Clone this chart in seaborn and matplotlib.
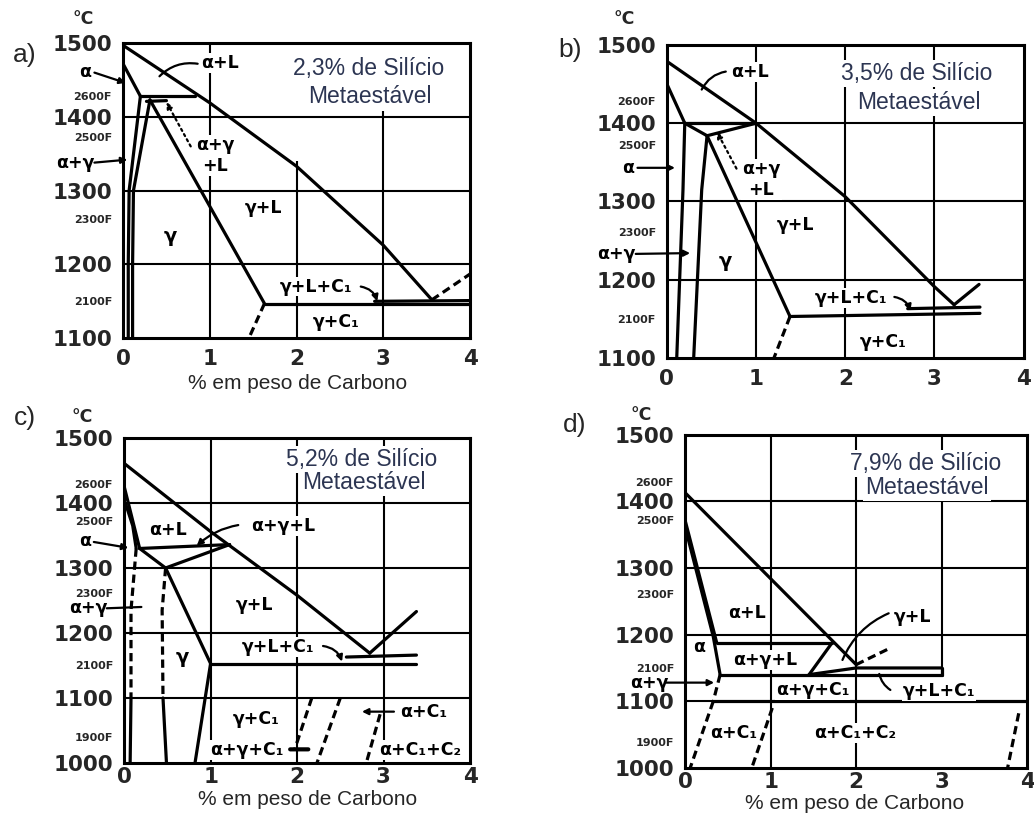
import matplotlib
matplotlib.use("Agg")
import matplotlib.pyplot as plt
import seaborn as sns
import pandas as pd

# ---------------- phase boundaries: (wt% C, temperature °C) ----------------
# a) 2.3 % Si
a_liquidus = [(0.0, 1497), (1.0, 1419), (2.0, 1333), (3.0, 1226), (3.56, 1152)]
a_liquidus_ext = [(3.56, 1152), (4.0, 1187)]
a_alpha_solidus = [(0.0, 1472), (0.20, 1428)]
a_peritectic = [(0.20, 1428), (0.83, 1428)]
a_peritectic_low = [(0.27, 1421), (0.50, 1422)]
a_alpha_solvus = [(0.20, 1428), (0.07, 1300), (0.06, 1200), (0.06, 1100)]
a_gamma_solvus = [(0.31, 1423), (0.12, 1300), (0.11, 1200), (0.11, 1100)]
a_gamma_solidus = [(0.31, 1423), (1.63, 1147)]
a_eutectic_low = [(1.63, 1147), (4.0, 1147)]
a_eutectic_high = [(2.90, 1150), (4.0, 1151)]
a_gamma_cem = [(1.63, 1147), (1.45, 1100)]

# b) 3.5 % Si
b_liquidus = [(0.0, 1479), (1.0, 1400), (2.0, 1306), (3.0, 1191), (3.22, 1168)]
b_liquidus_ext = [(3.22, 1168), (3.50, 1194)]
b_alpha_solidus = [(0.0, 1450), (0.20, 1400)]
b_peritectic = [(0.20, 1400), (1.0, 1400)]
b_tri_left = [(0.20, 1400), (0.45, 1384)]
b_tri_right = [(0.45, 1384), (1.0, 1400)]
b_alpha_solvus = [(0.20, 1400), (0.18, 1315), (0.11, 1100)]
b_gamma_solvus = [(0.45, 1384), (0.39, 1315), (0.30, 1100)]
b_gamma_solidus = [(0.45, 1384), (1.38, 1153)]
b_eutectic_low = [(1.38, 1153), (3.51, 1157)]
b_eutectic_high = [(2.70, 1163), (3.51, 1165)]
b_gamma_cem = [(1.38, 1153), (1.20, 1100)]

# c) 5.2 % Si
c_liquidus = [(0.0, 1461), (1.0, 1356), (2.0, 1258), (2.84, 1169)]
c_liquidus_ext = [(2.84, 1169), (3.38, 1233)]
c_alpha_solidus = [(0.0, 1426), (0.18, 1330)]
c_alpha_solvus = [(0.02, 1398), (0.10, 1365), (0.14, 1330)]
c_alpha_solvus_mid = [(0.14, 1330), (0.08, 1235), (0.08, 1100)]
c_alpha_solvus_low = [(0.08, 1100), (0.07, 1000)]
c_tri_top = [(0.18, 1330), (1.22, 1336)]
c_tri_left = [(0.18, 1330), (0.48, 1300)]
c_tri_right = [(0.48, 1300), (1.22, 1336)]
c_gamma_solvus_mid = [(0.48, 1300), (0.44, 1235), (0.45, 1100)]
c_gamma_solvus_low = [(0.45, 1100), (0.49, 1000)]
c_gamma_solidus = [(0.48, 1300), (1.0, 1153)]
c_eutectic_low = [(1.0, 1153), (3.38, 1153)]
c_eutectic_high = [(2.57, 1163), (3.38, 1166)]
c_gamma_cem = [(1.0, 1153), (0.82, 1000)]
c_cem_a = [(2.17, 1100), (1.97, 1020)]
c_cem_b = [(2.50, 1100), (2.23, 1000)]
c_cem_c = [(2.96, 1075), (2.80, 1000)]

# d) 7.9 % Si
d_liquidus = [(0.0, 1413), (2.0, 1155)]
d_liquidus_ext = [(2.0, 1155), (2.40, 1180)]
d_alpha_solidus = [(0.0, 1372), (0.37, 1188)]
d_alpha_solvus = [(0.0, 1362), (0.33, 1197), (0.41, 1140)]
d_alpha_solvus_low = [(0.41, 1140), (0.33, 1100)]
d_alpha_cem = [(0.33, 1100), (0.06, 1000)]
d_tri_top = [(0.37, 1188), (1.72, 1188)]
d_tri_right = [(1.72, 1188), (1.45, 1140)]
d_three_low = [(0.41, 1140), (3.0, 1140)]
d_gl_low = [(1.45, 1140), (2.0, 1150), (3.0, 1150)]
d_right_edge = [(3.0, 1140), (3.0, 1150)]
d_eutectoid = [(0.33, 1100), (4.0, 1100)]
d_cem_mid = [(1.02, 1090), (0.78, 1000)]
d_cem_right = [(3.90, 1082), (3.77, 1000)]

# ---------------- axis texts ----------------
c_ticks = [0, 1, 2, 3, 4]
t_ticks_ab = [1100, 1200, 1300, 1400, 1500]
t_ticks_cd = [1000, 1100, 1200, 1300, 1400, 1500]
f_ticks_ab = [1427, 1371, 1260, 1149]
f_labels_ab = ["2600F", "2500F", "2300F", "2100F"]
f_ticks_cd = [1427, 1371, 1260, 1149, 1038]
f_labels_cd = ["2600F", "2500F", "2300F", "2100F", "1900F"]
silicon_titles = ["2,3% de Silício", "3,5% de Silício", "5,2% de Silício", "7,9% de Silício"]
subtitle = "Metaestável"
xlabel = "% em peso de Carbono"

# ---------------- style ----------------
sns.set_style("white")
plt.rcParams["font.family"] = ["DejaVu Sans"]

INK = "black"
LW = 2.3
DASH = (0, (2.6, 1.5))
TITLE_COLOR = "#2c3552"

fig = plt.figure(figsize=(10.34, 8.13), dpi=100)
W, H = 1034.0, 813.0


def fx(px):
    return px / W


def fy(py):
    return 1 - py / H


def curve(ax, pts, dashed=False, lw=LW):
    df = pd.DataFrame(pts, columns=["C", "T"])
    sns.lineplot(data=df, x="C", y="T", ax=ax, sort=False, estimator=None,
                 color=INK, lw=lw, linestyle=DASH if dashed else "-",
                 solid_capstyle="round", zorder=3)


def phase(ax, s, x, t, size=12.5):
    ax.text(x, t, s, ha="center", va="center", fontsize=size, fontweight="bold",
            color=INK, zorder=6, clip_on=False,
            bbox=dict(fc="white", ec="none", pad=0.6))


def lead(ax, start, end, head=False, style="-", rad=0.0, lw=1.6):
    ax.annotate("", xy=end, xytext=start, annotation_clip=False,
                arrowprops=dict(arrowstyle="-|>" if head else "-", color=INK, lw=lw,
                                linestyle=style, mutation_scale=9,
                                shrinkA=0, shrinkB=0,
                                connectionstyle=f"arc3,rad={rad}"), zorder=7)


def frame(ax, tmin, tticks, fticks, flabels, xpad=8):
    ax.set_xlim(0, 4)
    ax.set_ylim(tmin, 1500)
    ax.set_xticks(c_ticks)
    ax.set_xticklabels([str(v) for v in c_ticks], fontsize=15.5, fontweight="bold")
    ax.set_yticks(tticks)
    ax.set_yticklabels([str(v) for v in tticks], fontsize=15.5, fontweight="bold")
    ax.set_yticks(fticks, minor=True)
    ax.tick_params(axis="y", which="major", length=0, pad=8)
    ax.tick_params(axis="x", which="major", length=0, pad=xpad)
    ax.tick_params(axis="y", which="minor", direction="in", length=5, width=1.4, color=INK)
    for sp in ax.spines.values():
        sp.set_visible(True)
        sp.set_color(INK)
        sp.set_linewidth(2.2)
    for t, lab in zip(fticks, flabels):
        ax.annotate(lab, xy=(0, t), xycoords=("axes fraction", "data"),
                    xytext=(-8, 0), textcoords="offset points",
                    ha="right", va="center", fontsize=8, fontweight="bold",
                    annotation_clip=False)


def grid(ax, verticals, horizontals, lw=1.5):
    for x, lo, hi in verticals:
        ax.vlines(x, lo, hi, color=INK, lw=lw, zorder=1)
    for t, lo, hi in horizontals:
        ax.hlines(t, lo, hi, color=INK, lw=lw, zorder=1)


def box_title(ax, text, x1, t1, x2, t2):
    for s, x, t in ((text, x1, t1), (subtitle, x2, t2)):
        ax.text(x, t, s, ha="center", va="center", fontsize=16.5, color=TITLE_COLOR,
                family="Liberation Sans", zorder=6,
                bbox=dict(fc="white", ec="none", pad=1.5))


# ---------------- a) ----------------
ax_a = fig.add_axes([0.119, 0.584, 0.3356, 0.363])
frame(ax_a, 1100, t_ticks_ab, f_ticks_ab, f_labels_ab)
grid(ax_a, [(1, 1100, 1500), (2, 1100, 1340), (3, 1100, 1408)],
     [(1400, 0, 4), (1300, 0, 4), (1200, 0, 4)])
for pts in (a_liquidus, a_alpha_solidus, a_peritectic, a_peritectic_low, a_alpha_solvus,
            a_gamma_solvus, a_gamma_solidus, a_eutectic_low, a_eutectic_high):
    curve(ax_a, pts)
curve(ax_a, a_liquidus_ext, dashed=True)
curve(ax_a, a_gamma_cem, dashed=True)
box_title(ax_a, silicon_titles[0], 2.83, 1466, 2.85, 1428)
phase(ax_a, "α+L", 1.12, 1473)
lead(ax_a, (0.86, 1472), (0.42, 1455), rad=0.25)
phase(ax_a, "α", -0.44, 1461)
lead(ax_a, (-0.33, 1460), (0.03, 1446), head=True)
phase(ax_a, "α+γ", -0.55, 1337)
lead(ax_a, (-0.33, 1338), (0.05, 1342), head=True)
phase(ax_a, "α+γ\n+L", 1.06, 1348)
lead(ax_a, (0.78, 1360), (0.50, 1420), head=True, style=":")
phase(ax_a, "γ+L", 1.62, 1276)
phase(ax_a, "γ", 0.54, 1238, size=14)
phase(ax_a, "γ+L+C₁", 2.23, 1170)
lead(ax_a, (2.74, 1170), (2.93, 1150), head=True, rad=-0.3)
phase(ax_a, "γ+C₁", 2.46, 1122)

# ---------------- b) ----------------
ax_b = fig.add_axes([0.645, 0.5597, 0.345, 0.385])
frame(ax_b, 1100, t_ticks_ab, f_ticks_ab, f_labels_ab)
grid(ax_b, [(1, 1100, 1500), (2, 1100, 1500), (3, 1100, 1500)],
     [(1400, 0, 4), (1300, 0, 4), (1200, 0, 4)])
for pts in (b_liquidus, b_liquidus_ext, b_alpha_solidus, b_peritectic, b_tri_left,
            b_tri_right, b_alpha_solvus, b_gamma_solvus, b_gamma_solidus,
            b_eutectic_low, b_eutectic_high):
    curve(ax_b, pts)
curve(ax_b, b_gamma_cem, dashed=True)
box_title(ax_b, silicon_titles[1], 2.80, 1463, 2.82, 1426)
phase(ax_b, "α+L", 0.93, 1465)
lead(ax_b, (0.66, 1466), (0.39, 1443), rad=0.25)
phase(ax_b, "α", -0.43, 1343)
lead(ax_b, (-0.33, 1343), (0.09, 1343), head=True)
phase(ax_b, "α+γ", -0.57, 1233)
lead(ax_b, (-0.35, 1233), (0.26, 1234), head=True)
phase(ax_b, "α+γ\n+L", 1.06, 1328)
lead(ax_b, (0.78, 1342), (0.56, 1389), head=True, style=":")
phase(ax_b, "γ+L", 1.44, 1270)
phase(ax_b, "γ", 0.65, 1223, size=14)
phase(ax_b, "γ+L+C₁", 2.06, 1177)
lead(ax_b, (2.55, 1178), (2.73, 1160), head=True, rad=-0.3)
phase(ax_b, "γ+C₁", 2.43, 1121)

# ---------------- c) ----------------
ax_c = fig.add_axes([0.120, 0.0615, 0.3346, 0.3998])
frame(ax_c, 1000, t_ticks_cd, f_ticks_cd, f_labels_cd, xpad=3)
grid(ax_c, [(1, 1000, 1500), (2, 1000, 1500), (3, 1000, 1500)],
     [(1400, 0, 4), (1300, 0, 4), (1200, 0, 4), (1100, 0, 4)])
for pts in (c_liquidus, c_liquidus_ext, c_alpha_solidus, c_alpha_solvus,
            c_alpha_solvus_low, c_tri_top, c_tri_left, c_tri_right,
            c_gamma_solvus_low, c_gamma_solidus, c_eutectic_low, c_eutectic_high,
            c_gamma_cem):
    curve(ax_c, pts)
for pts in (c_alpha_solvus_mid, c_gamma_solvus_mid, c_cem_a, c_cem_b, c_cem_c):
    curve(ax_c, pts, dashed=True)
box_title(ax_c, silicon_titles[2], 2.75, 1467, 2.77, 1431)
phase(ax_c, "α+L", 0.51, 1359)
phase(ax_c, "α+γ+L", 1.84, 1365)
lead(ax_c, (1.32, 1366), (0.84, 1334), head=True, rad=0.15)
phase(ax_c, "α", -0.45, 1341)
lead(ax_c, (-0.35, 1340), (0.05, 1331), head=True)
phase(ax_c, "α+γ", -0.41, 1238)
lead(ax_c, (-0.2, 1238), (0.20, 1240))
phase(ax_c, "γ+L", 1.51, 1243)
phase(ax_c, "γ", 0.67, 1163, size=14)
phase(ax_c, "γ+L+C₁", 1.78, 1179)
lead(ax_c, (2.30, 1180), (2.52, 1156), head=True, rad=-0.3)
phase(ax_c, "γ+C₁", 1.53, 1068)
phase(ax_c, "α+γ+C₁", 1.42, 1020)
lead(ax_c, (1.92, 1021), (2.13, 1021), lw=3.0)
phase(ax_c, "α+C₁", 3.46, 1079)
lead(ax_c, (3.12, 1079), (2.75, 1079), head=True)
phase(ax_c, "α+C₁+C₂", 3.42, 1020)

# ---------------- d) ----------------
ax_d = fig.add_axes([0.6625, 0.0554, 0.331, 0.410])
frame(ax_d, 1000, t_ticks_cd, f_ticks_cd, f_labels_cd, xpad=3)
grid(ax_d, [(1, 1000, 1500), (2, 1000, 1500), (3, 1140, 1500)],
     [(1400, 0, 4), (1300, 0, 4), (1200, 0, 4), (1100, 0, 0.33)])
for pts in (d_liquidus, d_alpha_solidus, d_alpha_solvus, d_tri_top, d_tri_right,
            d_three_low, d_gl_low, d_right_edge, d_eutectoid):
    curve(ax_d, pts)
for pts in (d_liquidus_ext, d_alpha_solvus_low, d_alpha_cem, d_cem_mid, d_cem_right):
    curve(ax_d, pts, dashed=True)
box_title(ax_d, silicon_titles[3], 2.81, 1457, 2.83, 1421)
phase(ax_d, "α+L", 0.73, 1232)
phase(ax_d, "α", 0.16, 1182)
phase(ax_d, "α+γ+L", 0.94, 1162)
phase(ax_d, "α+γ+C₁", 1.49, 1117)
phase(ax_d, "γ+L", 2.66, 1227)
lead(ax_d, (2.38, 1232), (1.84, 1162), rad=0.2)
phase(ax_d, "γ+L+C₁", 2.97, 1115)
lead(ax_d, (2.40, 1117), (2.27, 1141), rad=-0.2)
phase(ax_d, "α+γ", -0.42, 1128)
lead(ax_d, (-0.23, 1128), (0.34, 1128), head=True)
phase(ax_d, "α+C₁", 0.57, 1052)
phase(ax_d, "α+C₁+C₂", 1.99, 1052)

# seaborn names the axes after the data columns; the figure carries its own labels
for ax in (ax_a, ax_b, ax_c, ax_d):
    ax.set_xlabel("")
    ax.set_ylabel("")

# ---------------- figure texts ----------------
for (px, py) in ((83, 19), (624, 19), (82, 417), (641, 415)):
    fig.text(fx(px), fy(py), "°C", ha="center", va="center", fontsize=12.5, fontweight="bold")
for s, (px, py) in zip(["a)", "b)", "c)", "d)"], ((25, 55), (570, 50), (25, 418), (575, 425))):
    fig.text(fx(px), fy(py), s, ha="center", va="center", fontsize=19, family="Liberation Sans")
for (px, py) in ((298, 383), (308, 799), (855, 803)):
    fig.text(fx(px), fy(py), xlabel, ha="center", va="center", fontsize=15,
             family="Liberation Sans")

fig.savefig("out.png", dpi=100, facecolor="white")
